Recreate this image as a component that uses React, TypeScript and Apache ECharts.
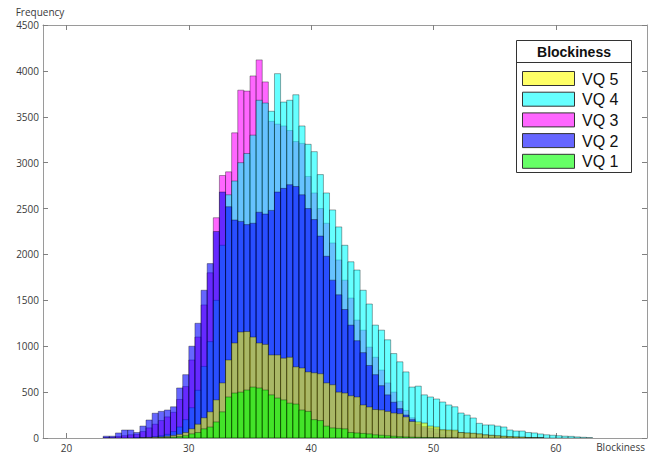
import React, { useEffect, useRef } from "react";
import * as echarts from "echarts";

// Histogram bins: left edge of first bin and bin width (Blockiness units)
const BIN_START = 23;
const BIN_WIDTH = 0.5;

// Frequencies per bin (bins 23.0, 23.5, ..., 62.5)
const vq1 = [
  0, 0, 0, 0, 0, 0, 0, 0, 0, 3,
  5, 10, 15, 25, 45, 60, 100, 120, 175, 285,
  447, 490, 500, 523, 555, 545, 523, 470, 436, 415,
  380, 370, 305, 290, 200, 190, 130, 110, 105, 100,
  60, 55, 50, 45, 35, 30, 25, 20, 15, 12,
  10, 8, 6, 5, 4, 3, 2, 1, 0, 0,
  0, 0, 0, 0, 0, 0, 0, 0, 0, 0,
  0, 0, 0, 0, 0, 0, 0, 0, 0, 0,
];
const vq2 = [
  20, 20, 55, 87, 87, 60, 130, 196, 270, 290,
  305, 340, 545, 690, 1000, 1250, 1610, 1900, 2250, 2680,
  2520, 2375, 2360, 2325, 2340, 2460, 2440, 2480, 2680, 2720,
  2760, 2740, 2650, 2500, 2380, 2200, 1980, 1720, 1560, 1400,
  1230, 1060, 930, 790, 690, 570, 470, 390, 320, 250,
  200, 150, 125, 110, 100, 85, 80, 75, 58, 52,
  48, 42, 33, 28, 22, 17, 13, 10, 8, 5,
  3, 2, 0, 0, 0, 0, 0, 0, 0, 0,
];
const vq3 = [
  5, 8, 15, 25, 35, 40, 70, 110, 150, 190,
  230, 280, 420, 560, 850, 1100, 1450, 1800, 2400, 2860,
  2900, 3325, 3790, 3780, 3945, 4120, 3880, 3450, 3420, 3400,
  3350, 3230, 3210, 2850, 2670, 2500, 2340, 2125, 1940, 1720,
  1525, 1285, 1175, 990, 880, 740, 600, 500, 400, 300,
  220, 160, 110, 75, 50, 35, 25, 16, 10, 6,
  4, 2, 0, 0, 0, 0, 0, 0, 0, 0,
  0, 0, 0, 0, 0, 0, 0, 0, 0, 0,
];
const vq4 = [
  0, 0, 0, 0, 0, 3, 5, 8, 15, 25,
  40, 70, 120, 200, 330, 520, 780, 1050, 1500, 2100,
  2650, 2800, 3000, 3100, 3300, 3680, 3650, 3560, 3970, 3660,
  3680, 3740, 3400, 3200, 3120, 2870, 2670, 2485, 2300, 2100,
  1920, 1830, 1610, 1460, 1230, 1175, 1070, 920, 830, 720,
  555, 565, 470, 447, 425, 392, 360, 340, 272, 250,
  218, 160, 142, 142, 130, 120, 87, 76, 76, 60,
  55, 44, 35, 30, 25, 20, 18, 12, 8, 5,
];
const vq5 = [
  0, 0, 0, 0, 0, 0, 3, 5, 8, 12,
  18, 28, 40, 60, 100, 150, 220, 285, 415, 600,
  850, 1035, 1155, 1160, 1100, 1035, 1020, 905, 905, 870,
  880, 775, 763, 720, 710, 700, 600, 580, 500, 490,
  460, 447, 360, 338, 310, 305, 290, 272, 265, 230,
  180, 175, 163, 130, 120, 90, 87, 85, 60, 55,
  52, 45, 35, 30, 25, 20, 15, 12, 10, 6,
  4, 2, 0, 0, 0, 0, 0, 0, 0, 0,
];

const xTicks = [20, 30, 40, 50, 60];
const legendTitle = "Blockiness";
// drawing order (bottom to top)
const drawOrder = [
  { name: "VQ 3", values: vq3, rgb: "255,0,255" },
  { name: "VQ 4", values: vq4, rgb: "0,255,255" },
  { name: "VQ 2", values: vq2, rgb: "0,0,255" },
  { name: "VQ 5", values: vq5, rgb: "255,255,0" },
  { name: "VQ 1", values: vq1, rgb: "0,255,0" },
];
const legendOrder = ["VQ 5", "VQ 4", "VQ 3", "VQ 2", "VQ 1"];
const ALPHA = 0.6;

const FONT = "'Open Sans', 'DejaVu Sans', sans-serif";
const LEG_FONT = "'Liberation Sans', Arial, sans-serif";

export default function App() {
  const ref = useRef<HTMLDivElement>(null);
  useEffect(() => {
    document.body.style.margin = "0";
    if (!ref.current) return;
    const chart = echarts.init(ref.current, null, { renderer: "svg" });

    const series = drawOrder.map((s) => {
      const data = s.values
        .map((v, i) => [BIN_START + i * BIN_WIDTH, BIN_START + (i + 1) * BIN_WIDTH, v])
        .filter((d) => d[2] > 0);
      const fill = `rgba(${s.rgb},${ALPHA})`;
      return {
        type: "custom",
        name: s.name,
        data,
        encode: { x: [0, 1], y: 2 },
        clip: true,
        renderItem: (params: any, api: any) => {
          const a = api.coord([api.value(0), api.value(2)]);
          const b = api.coord([api.value(1), 0]);
          return {
            type: "rect",
            shape: { x: a[0], y: a[1], width: b[0] - a[0], height: b[1] - a[1] },
            style: { fill, stroke: "rgba(0,0,0,0.5)", lineWidth: 0.7 },
          };
        },
      };
    });

    const axisLineStyle = { color: "#9a9a9a", width: 1 };
    const tickStyle = { color: "#808080", width: 1 };

    const legendGraphics: any[] = [
      {
        type: "rect",
        z: 100,
        shape: { x: 516.5, y: 40.5, width: 115, height: 132 },
        style: { fill: "#fff", stroke: "#333", lineWidth: 1 },
      },
      {
        type: "line",
        z: 101,
        shape: { x1: 516.5, y1: 62.5, x2: 631.5, y2: 62.5 },
        style: { stroke: "#333", lineWidth: 1 },
      },
      {
        type: "text",
        z: 101,
        x: 574,
        y: 52,
        style: {
          text: legendTitle,
          font: `bold 14px ${LEG_FONT}`,
          textAlign: "center",
          textVerticalAlign: "middle",
          fill: "#111",
        },
      },
    ];
    legendOrder.forEach((nm, i) => {
      const s = drawOrder.find((d) => d.name === nm)!;
      const y = 71 + i * 20.7;
      legendGraphics.push({
        type: "rect",
        z: 101,
        shape: { x: 522.5, y: y + 0.5, width: 52, height: 14 },
        style: { fill: `rgba(${s.rgb},${ALPHA})`, stroke: "#333", lineWidth: 1 },
      });
      legendGraphics.push({
        type: "text",
        z: 101,
        x: 582,
        y: y + 8,
        style: {
          text: nm,
          font: `16px ${LEG_FONT}`,
          textAlign: "left",
          textVerticalAlign: "middle",
          fill: "#111",
        },
      });
    });

    chart.setOption({
      animation: false,
      backgroundColor: "#fff",
      grid: { left: 43, right: 9, top: 25, bottom: 20, containLabel: false },
      xAxis: [
        {
          type: "value",
          min: 18.08,
          max: 67.45,
          position: "bottom",
          axisLine: { show: true, onZero: false, lineStyle: axisLineStyle },
          axisTick: { show: true, inside: true, length: 5, customValues: xTicks, lineStyle: tickStyle },
          axisLabel: { customValues: xTicks, color: "#3a3a3a", fontSize: 10, fontFamily: FONT, margin: 5 },
          splitLine: { show: false },
          name: "Blockiness",
          nameLocation: "end",
          nameGap: -2,
          nameTextStyle: {
            color: "#3a3a3a",
            fontSize: 10,
            fontFamily: FONT,
            align: "right",
            verticalAlign: "top",
            padding: [4, 0, 0, 0],
          },
        },
        {
          type: "value",
          min: 18.08,
          max: 67.45,
          position: "top",
          axisLine: { show: true, onZero: false, lineStyle: axisLineStyle },
          axisTick: { show: true, inside: true, length: 5, customValues: xTicks, lineStyle: tickStyle },
          axisLabel: { show: false },
          splitLine: { show: false },
        },
      ],
      yAxis: [
        {
          type: "value",
          min: 0,
          max: 4500,
          interval: 500,
          position: "left",
          axisLine: { show: true, onZero: false, lineStyle: axisLineStyle },
          axisTick: { show: true, inside: true, length: 5, lineStyle: tickStyle },
          axisLabel: {
            color: "#3a3a3a",
            fontSize: 10,
            fontFamily: FONT,
            margin: 4,
            formatter: (v: number) => String(v),
          },
          splitLine: { show: false },
          name: "Frequency",
          nameLocation: "end",
          nameGap: 8,
          nameTextStyle: { color: "#3a3a3a", fontSize: 10, fontFamily: FONT, padding: [0, 6, 0, 0] },
        },
        {
          type: "value",
          min: 0,
          max: 4500,
          interval: 500,
          position: "right",
          axisLine: { show: true, onZero: false, lineStyle: axisLineStyle },
          axisTick: { show: true, inside: true, length: 5, lineStyle: tickStyle },
          axisLabel: { show: false },
          splitLine: { show: false },
        },
      ],
      series,
      graphic: legendGraphics,
    });
    return () => chart.dispose();
  }, []);
  return <div ref={ref} style={{ width: 656, height: 458 }} />;
}
